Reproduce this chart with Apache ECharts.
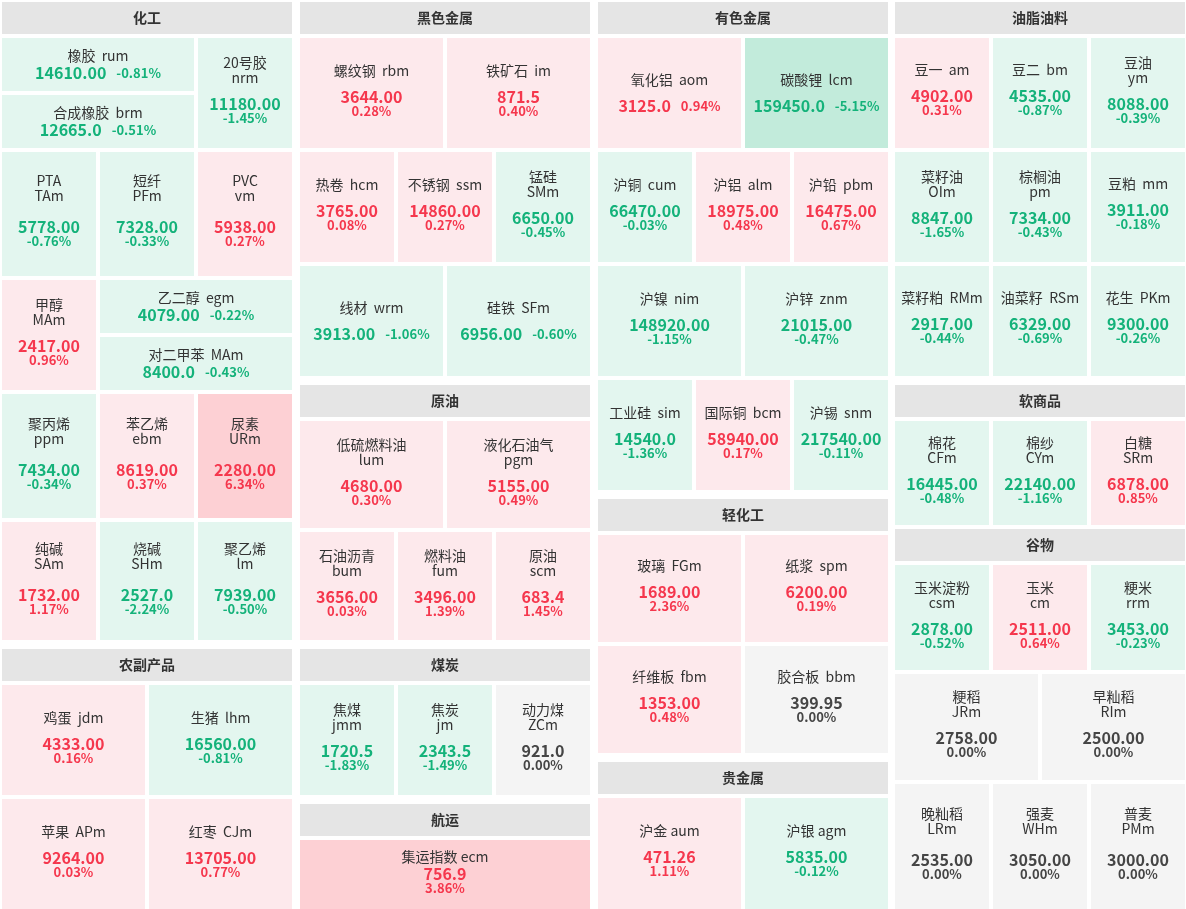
<!DOCTYPE html>
<html>
<head>
<meta charset="utf-8">
<script src="https://cdn.jsdelivr.net/npm/echarts@6/dist/echarts.min.js"></script>
<style>
html,body{margin:0;padding:0;background:#fff;}
#main{width:1186px;height:909px;}
</style>
</head>
<body>
<div id="main"></div>
<script>
// ---------------- data ----------------
const groups = ['化工', '农副产品', '黑色金属', '原油', '煤炭', '航运', '有色金属', '轻化工', '贵金属', '油脂油料', '软商品', '谷物'];
// relative block weights of the sector groups
const groupWeights = [647, 269, 383, 264, 155, 114, 497, 263, 156, 379.4, 144, 384];

const tileLabels = [
  '橡胶  rum', '20号胶\nnrm', '合成橡胶  brm', 'PTA\nTAm', '短纤\nPFm', 'PVC\nvm', '甲醇\nMAm', '乙二醇  egm', '对二甲苯  MAm', '聚丙烯\nppm', '苯乙烯\nebm', '尿素\nURm', '纯碱\nSAm', '烧碱\nSHm', '聚乙烯\nlm',
  '鸡蛋  jdm', '生猪  lhm', '苹果  APm', '红枣  CJm',
  '螺纹钢  rbm', '铁矿石  im', '热卷  hcm', '不锈钢  ssm', '锰硅\nSMm', '线材  wrm', '硅铁  SFm',
  '低硫燃料油\nlum', '液化石油气\npgm', '石油沥青\nbum', '燃料油\nfum', '原油\nscm',
  '焦煤\njmm', '焦炭\njm', '动力煤\nZCm',
  '集运指数 ecm',
  '氧化铝  aom', '碳酸锂  lcm', '沪铜  cum', '沪铝  alm', '沪铅  pbm', '沪镍  nim', '沪锌  znm', '工业硅  sim', '国际铜  bcm', '沪锡  snm',
  '玻璃  FGm', '纸浆  spm', '纤维板  fbm', '胶合板  bbm',
  '沪金 aum', '沪银 agm',
  '豆一  am', '豆二  bm', '豆油\nym', '菜籽油\nOIm', '棕榈油\npm', '豆粕  mm', '菜籽粕  RMm', '油菜籽  RSm', '花生  PKm',
  '棉花\nCFm', '棉纱\nCYm', '白糖\nSRm',
  '玉米淀粉\ncsm', '玉米\ncm', '粳米\nrrm', '粳稻\nJRm', '早籼稻\nRIm', '晚籼稻\nLRm', '强麦\nWHm', '普麦\nPMm'
];
const prices = [
  '14610.00', '11180.00', '12665.0', '5778.00', '7328.00', '5938.00', '2417.00', '4079.00', '8400.0', '7434.00', '8619.00', '2280.00', '1732.00', '2527.0', '7939.00',
  '4333.00', '16560.00', '9264.00', '13705.00',
  '3644.00', '871.5', '3765.00', '14860.00', '6650.00', '3913.00', '6956.00',
  '4680.00', '5155.00', '3656.00', '3496.00', '683.4',
  '1720.5', '2343.5', '921.0',
  '756.9',
  '3125.0', '159450.0', '66470.00', '18975.00', '16475.00', '148920.00', '21015.00', '14540.0', '58940.00', '217540.00',
  '1689.00', '6200.00', '1353.00', '399.95',
  '471.26', '5835.00',
  '4902.00', '4535.00', '8088.00', '8847.00', '7334.00', '3911.00', '2917.00', '6329.00', '9300.00',
  '16445.00', '22140.00', '6878.00',
  '2878.00', '2511.00', '3453.00', '2758.00', '2500.00', '2535.00', '3050.00', '3000.00'
];
const changes = [
  -0.81, -1.45, -0.51, -0.76, -0.33, 0.27, 0.96, -0.22, -0.43, -0.34, 0.37, 6.34, 1.17, -2.24, -0.50,
  0.16, -0.81, 0.03, 0.77,
  0.28, 0.40, 0.08, 0.27, -0.45, -1.06, -0.60,
  0.30, 0.49, 0.03, 1.39, 1.45,
  -1.83, -1.49, 0.00,
  3.86,
  0.94, -5.15, -0.03, 0.48, 0.67, -1.15, -0.47, -1.36, 0.17, -0.11,
  2.36, 0.19, 0.48, 0.00,
  1.11, -0.12,
  0.31, -0.87, -0.39, -1.65, -0.43, -0.18, -0.44, -0.69, -0.26,
  -0.48, -1.16, 0.85,
  -0.52, 0.64, -0.23, 0.00, 0.00, 0.00, 0.00, 0.00
];
// relative tile weights (tile areas)
const tileWeights = [
  11172, 11172, 11172, 12544, 12544, 12544, 11172, 11172, 11172, 12544, 12544, 12544, 11956, 11956, 11956,
  16758, 16758, 16758, 16758,
  16758, 16758, 11172, 11172, 11172, 16758, 16758,
  16317, 16317, 10976, 10976, 10976,
  11172, 11172, 11172,
  20286,
  16758, 16758, 11172, 11172, 11172, 16758, 16758, 11172, 11172, 11172,
  16317, 16317, 16317, 16317,
  16905, 16905,
  11172, 11172, 11172, 11172, 11172, 11172, 11172, 11172, 11172,
  10584, 10584, 10584,
  10682, 10682, 10682, 16170, 16170, 12642, 12642, 12642
];

// ---------------- hierarchy (grouping only) ----------------
const columnTrees = [
  ['化工', '农副产品'],
  [['黑色金属', '原油'], ['煤炭', '航运']],
  ['有色金属', ['轻化工', '贵金属']],
  ['油脂油料', {gap: 4, items: ['软商品', '谷物']}]
];
const columnRatio = [1.14, 1.47, 1.41, 1.43];
const groupTrees = {
  '化工': [[['橡胶', ['合成橡胶', ['PTA', '短纤']]], ['20号胶', 'PVC']],
         [[['甲醇', '聚丙烯'], ['乙二醇', ['对二甲苯', ['苯乙烯', '尿素']]]], ['纯碱', ['烧碱', '聚乙烯']]]],
  '农副产品': [['鸡蛋', '苹果'], ['生猪', '红枣']],
  '黑色金属': [[['螺纹钢', '铁矿石'], ['热卷', ['不锈钢', '锰硅']]], ['线材', '硅铁']],
  '原油': [['低硫燃料油', '液化石油气'], ['石油沥青', ['燃料油', '原油']]],
  '煤炭': ['焦煤', ['焦炭', '动力煤']],
  '航运': ['集运指数'],
  '有色金属': [[['氧化铝', '碳酸锂'], ['沪铜', ['沪铝', '沪铅']]], [['沪镍', '沪锌'], ['工业硅', ['国际铜', '沪锡']]]],
  '轻化工': [['玻璃', '纸浆'], ['纤维板', '胶合板']],
  '贵金属': ['沪金', '沪银'],
  '油脂油料': [[['豆一', ['豆二', '豆油']], ['菜籽油', ['棕榈油', '豆粕']]], ['菜籽粕', ['油菜籽', '花生']]],
  '软商品': ['棉花', ['棉纱', '白糖']],
  '谷物': [[['玉米淀粉', ['玉米', '粳米']], ['粳稻', '早籼稻']], ['晚籼稻', ['强麦', '普麦']]]
};

// ---------------- styling ----------------
const FONT = '"Noto Sans CJK SC", "Noto Sans", sans-serif';
const RED = '#f5374d', GREEN = '#14b27a', NEUTRAL = '#454545';
const COL_W = 290;
const tileNames = tileLabels.map(s => s.split(/\s+/)[0]);
const inlineTiles = new Set(['橡胶', '合成橡胶', '乙二醇', '对二甲苯', '氧化铝', '碳酸锂', '线材', '硅铁']);

function tone(c) { return c > 0 ? 'r' : (c < 0 ? 'g' : 'n'); }
function fillColor(c) {
  if (c >= 3) return '#fdd0d4';
  if (c > 0) return '#fde9ec';
  if (c === 0) return '#f4f4f4';
  if (c > -3) return '#e3f6ef';
  return '#c2ebdb';
}
function pctText(c) { return c.toFixed(2) + '%'; }

function labelFor(i, h) {
  const t = tone(changes[i]);
  const val = '{v' + t + '|' + prices[i] + '}';
  const pct = '{p' + t + '|' + pctText(changes[i]) + '}';
  if (inlineTiles.has(tileNames[i])) {
    const lines = ['{m|' + tileLabels[i] + '}'];
    let bh = 17 + 18;
    if (h > 80) { lines.push('{s9| }'); bh += 9; }
    lines.push(val + '{gap| }' + pct);
    return {text: lines.join('\n'), height: bh, offset: 0};
  }
  const sp = h >= 115 ? 16 : (h >= 80 ? 11 : 2);
  const nl = tileLabels[i].split('\n').length;
  const text = '{n|' + tileLabels[i] + '}\n{s' + sp + '| }\n' + val + '\n' + pct;
  return {text: text, height: nl * 15 + sp + 16 + 13, offset: -3};
}

const rich = {
  n: {fontSize: 14, lineHeight: 15, color: '#333', fontFamily: FONT},
  m: {fontSize: 14, lineHeight: 17, color: '#333', fontFamily: FONT},
  s2: {fontSize: 1, lineHeight: 2},
  s9: {fontSize: 1, lineHeight: 9},
  s11: {fontSize: 1, lineHeight: 11},
  s16: {fontSize: 1, lineHeight: 16},
  gap: {width: 10, lineHeight: 18, fontSize: 1},
  vr: {fontSize: 16, fontWeight: 'bold', lineHeight: 16, color: RED, fontFamily: FONT},
  vg: {fontSize: 16, fontWeight: 'bold', lineHeight: 16, color: GREEN, fontFamily: FONT},
  vn: {fontSize: 16, fontWeight: 'bold', lineHeight: 16, color: NEUTRAL, fontFamily: FONT},
  pr: {fontSize: 13, fontWeight: 'bold', lineHeight: 13, color: RED, fontFamily: FONT},
  pg: {fontSize: 13, fontWeight: 'bold', lineHeight: 13, color: GREEN, fontFamily: FONT},
  pn: {fontSize: 13, fontWeight: 'bold', lineHeight: 13, color: NEUTRAL, fontFamily: FONT}
};

let labelText = {};

function buildOption(info) {
  let hid = 0;
  function leaf(i) {
    const item = {
      name: tileNames[i],
      value: tileWeights[i],
      itemStyle: {color: fillColor(changes[i]), borderWidth: 0, borderColor: '#fff'}
    };
    const h = info ? info[tileNames[i]] : null;
    if (h != null) {
      const lb = labelFor(i, h);
      labelText[tileNames[i]] = lb.text;
      item.label = {padding: [Math.max(0, Math.round((h - lb.height) / 2 + lb.offset)), 0, 0, 0]};
    }
    return item;
  }
  function tileNode(spec) {
    if (typeof spec === 'string') return leaf(tileNames.indexOf(spec));
    return {name: '·' + (hid++), itemStyle: {gapWidth: 4, borderWidth: 0, borderColor: '#fff'}, children: spec.map(tileNode)};
  }
  function colNode(spec) {
    if (typeof spec === 'string') {
      const gi = groups.indexOf(spec);
      return {
        name: spec, value: groupWeights[gi],
        upperLabel: {show: true},
        itemStyle: {gapWidth: 4, borderWidth: 0, borderColor: '#fff'},
        children: groupTrees[spec].map(tileNode)
      };
    }
    if (Array.isArray(spec)) {
      return {name: '·' + (hid++), itemStyle: {gapWidth: 9, borderWidth: 0, borderColor: '#fff'}, children: spec.map(colNode)};
    }
    return {name: '·' + (hid++), itemStyle: {gapWidth: spec.gap, borderWidth: 0, borderColor: '#fff'}, children: spec.items.map(colNode)};
  }
  const lefts = [2, 300, 598, 895];
  const series = columnTrees.map((col, ci) => ({
    type: 'treemap',
    left: lefts[ci], top: 2, width: COL_W, height: 907,
    squareRatio: columnRatio[ci],
    sort: false,
    roam: false,
    nodeClick: false,
    visibleMin: 0,
    animation: false,
    breadcrumb: {show: false},
    itemStyle: {borderWidth: 0, gapWidth: 4, borderColor: '#fff'},
    levels: [{itemStyle: {gapWidth: 9, borderWidth: 0, borderColor: '#fff'}}],
    emphasis: {disabled: true},
    label: {
      show: true, position: 'inside', align: 'center', verticalAlign: 'middle',
      overflow: 'none', padding: 0, distance: 0,
      formatter: p => labelText[p.name] || '',
      rich: rich
    },
    upperLabel: {
      show: false, height: 36, overflow: 'none',
      formatter: p => '{h|' + p.name + '}',
      rich: {h: {width: COL_W, height: 32, lineHeight: 32, align: 'center', backgroundColor: '#e5e5e5',
                 fontSize: 14, fontWeight: 'bold', color: '#333', fontFamily: FONT}}
    },
    data: col.map(colNode)
  }));
  return {backgroundColor: '#fff', animation: false, series: series};
}

const chart = echarts.init(document.getElementById('main'), null, {renderer: 'canvas'});
chart.setOption(buildOption(null));
const info = {};
try {
  for (let s = 0; s < columnTrees.length; s++) {
    const data = chart.getModel().getSeriesByIndex(s).getData();
    data.tree.root.eachNode(node => {
      if (node.depth > 0 && (!node.children || node.children.length === 0)) {
        const lay = node.getLayout();
        if (lay) info[node.name] = lay.height;
      }
    });
  }
} catch (e) {
  tileNames.forEach(n => { info[n] = 100; });
}
chart.setOption(buildOption(info), true);
</script>
</body>
</html>
